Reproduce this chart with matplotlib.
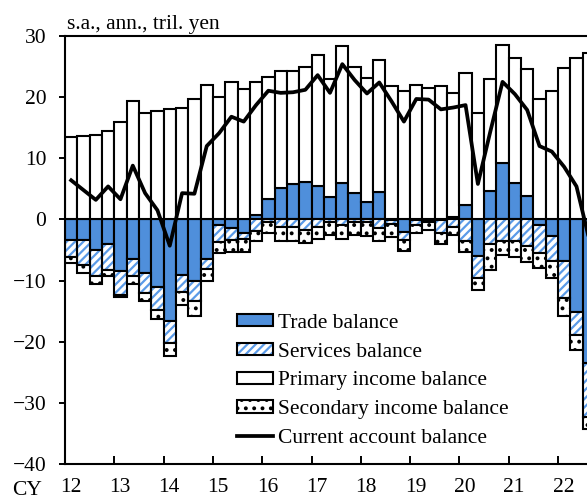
import matplotlib
matplotlib.use('Agg')
import matplotlib.pyplot as plt
import numpy as np
from matplotlib.patches import Patch
from matplotlib.lines import Line2D
from matplotlib.legend_handler import HandlerTuple

plt.rcParams['font.family'] = ['Liberation Serif', 'DejaVu Serif']
plt.rcParams['hatch.linewidth'] = 1.6

# quarterly, 2012Q1 - 2022Q3, s.a., annualized, tril. yen
trade = [-3.4, -3.3, -5.0, -4.0, -8.5, -6.5, -8.8, -11.1, -16.6, -9.1, -10.0, -6.5,
         -0.85, -1.35, -2.3, 0.7, 3.3, 5.15, 5.75, 6.1, 5.4, 3.6, 6.0, 4.4,
         2.9, 4.5, -0.05, -2.0, -0.1, -0.3, -0.1, 0.4, 2.3, -6.0, 4.7, 9.2,
         5.9, 3.9, -0.9, -2.75, -6.8, -15.15, -23.4]
services = [-2.7, -4.1, -4.3, -4.25, -3.8, -2.8, -3.3, -3.7, -3.6, -2.7, -3.4, -1.6,
            -2.85, -2.0, -0.9, -1.9, -0.4, -1.25, -1.2, -1.7, -1.3, -0.5, -0.9, -0.5,
            -0.5, -1.45, -0.65, -1.35, -0.8, -0.2, -2.15, -1.2, -3.6, -3.5, -4.0, -3.5,
            -3.6, -4.3, -4.6, -4.1, -6.1, -3.75, -8.9]
primary = [13.5, 13.7, 13.8, 14.5, 15.9, 19.4, 17.4, 17.8, 18.0, 18.3, 19.7, 22.0,
           20.1, 22.4, 21.3, 21.7, 20.0, 19.05, 18.55, 18.8, 21.5, 19.4, 22.3, 20.6,
           20.3, 21.5, 21.9, 21.0, 22.0, 21.5, 21.9, 20.3, 21.7, 17.4, 18.2, 19.3,
           20.5, 20.7, 19.7, 21.0, 24.7, 26.4, 27.3]
secondary = [-1.0, -1.3, -1.2, -0.95, -0.4, -1.2, -1.2, -1.5, -2.1, -2.2, -2.4, -1.9,
             -1.85, -1.95, -2.2, -1.7, -1.8, -2.35, -2.4, -2.2, -1.9, -2.0, -2.3, -2.0,
             -2.2, -2.15, -2.2, -1.75, -1.35, -1.3, -1.75, -1.3, -1.65, -2.1, -4.2, -2.3,
             -2.5, -2.6, -2.4, -2.75, -2.9, -2.4, -1.9]
current = [6.4, 4.8, 3.2, 5.4, 3.3, 8.8, 4.3, 1.5, -4.3, 4.3, 4.2, 12.0,
           14.1, 16.8, 16.0, 18.7, 21.05, 20.7, 20.8, 21.2, 23.6, 20.7, 25.4, 22.8,
           20.6, 22.4, 19.3, 16.0, 19.7, 19.6, 18.0, 18.3, 18.7, 5.8, 14.3, 22.5,
           20.5, 17.9, 12.0, 11.1, 8.6, 5.4, -3.0]
year_labels = ['12', '13', '14', '15', '16', '17', '18', '19', '20', '21', '22']

blue = '#4f8fdb'
stripe = '#5b9be8'

trade = np.array(trade)
services = np.array(services)
primary = np.array(primary)
secondary = np.array(secondary)
n = len(trade)
x = 2012 + np.arange(n) * 0.25
neg_base = np.minimum(trade, 0)
pos_base = np.maximum(trade, 0)

fig = plt.figure(figsize=(5.87, 4.98), dpi=100)
ax = fig.add_axes([65 / 587, 34 / 498, 542.3 / 587, 428 / 498])

lw = 1.5
ax.bar(x, trade, 0.25, align='edge', color=blue, edgecolor='k', lw=lw, zorder=2)
ax.bar(x, services, 0.25, bottom=neg_base, align='edge', color='white',
       edgecolor=stripe, hatch='////', lw=0, zorder=2)
ax.bar(x, services, 0.25, bottom=neg_base, align='edge', color='none',
       edgecolor='k', lw=lw, zorder=2)
ax.bar(x, primary, 0.25, bottom=pos_base, align='edge', color='white',
       edgecolor='k', lw=lw, zorder=2)
ax.bar(x, secondary, 0.25, bottom=neg_base + services, align='edge', color='white',
       edgecolor='k', hatch='..', lw=lw, zorder=2)
ax.plot(x + 0.125, current, color='k', lw=2.7, zorder=3)

ax.set_xlim(2012, 2023)
ax.set_ylim(-40, 30)
ax.set_yticks(np.arange(-40, 31, 10))
ax.set_xticks(np.arange(2012, 2024))
ax.set_xticklabels([])
ax.set_xticks(np.arange(2012, 2023) + 0.11, minor=True)
ax.set_xticklabels(year_labels, minor=True)
ax.tick_params(axis='x', which='major', direction='in', length=6, width=1.4)
ax.tick_params(axis='x', which='minor', length=0, pad=10, labelsize=15.5)
ax.tick_params(axis='y', direction='out', length=4.5, width=1.4, pad=9, labelsize=15.5)
for s in ax.spines.values():
    s.set_linewidth(1.5)

fig.text(67 / 587, 1 - 29.5 / 498, 's.a., ann., tril. yen', fontsize=15.5, va='baseline')
fig.text(12 / 587, 1 - 494.5 / 498, 'CY', fontsize=15.5, va='baseline')

handles = [
    Patch(facecolor=blue, edgecolor='k', lw=lw),
    (Patch(facecolor='white', edgecolor=stripe, hatch='////', lw=0),
     Patch(facecolor='none', edgecolor='k', lw=lw)),
    Patch(facecolor='white', edgecolor='k', lw=lw),
    Patch(facecolor='white', edgecolor='k', hatch='..', lw=lw),
    Line2D([], [], color='k', lw=2.7),
]
labels = ['Trade balance', 'Services balance', 'Primary income balance',
          'Secondary income balance', 'Current account balance']
fig.legend(handles, labels, loc='upper left', bbox_to_anchor=(237 / 587, 1 - 314 / 498),
           frameon=False, fontsize=15.5, borderpad=0, borderaxespad=0,
           handlelength=1.65, handleheight=0.5, handletextpad=0.25, labelspacing=0.45,
           handler_map={tuple: HandlerTuple(ndivide=1, pad=0)})

fig.savefig('out.png', dpi=100)
